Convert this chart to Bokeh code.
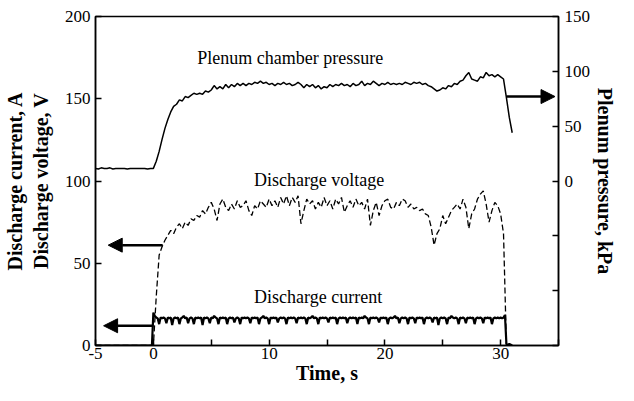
from bokeh.plotting import figure
from bokeh.models import (Range1d, LinearAxis, FixedTicker, Arrow, NormalHead,
                          ColumnDataSource, Title)
from bokeh.core.properties import value
from bokeh.embed import file_html
from bokeh.resources import INLINE

# ---------------- data ----------------
# plenum chamber pressure, kPa (right axis), sampled every 0.25 s from -5.0 s
P_T0, P_DT = -5.0, 0.25
pressure_kpa = [
    11.5, 11.0, 12.0, 11.5, 11.5, 12.0, 11.0, 11.5, 11.5, 11.5,
    11.5, 11.0, 11.5, 11.5, 11.5, 11.5, 11.5, 11.5, 11.0, 11.5,
    11.5, 18, 27, 38, 48, 56, 63, 68, 70, 74,
    73, 77, 76, 78, 80, 79, 80, 79, 82, 81,
    83, 87, 84, 86, 84, 88, 85, 88, 86, 89,
    87, 89, 87, 89, 88, 90, 89, 91, 89, 90,
    88, 89, 87, 89, 88, 90, 88, 89, 87, 88,
    90, 88, 85, 88, 86, 88, 85, 87, 84, 86,
    85, 88, 86, 88, 87, 89, 87, 88, 86, 89,
    87, 88, 91, 87, 89, 88, 91, 89, 87, 89,
    88, 90, 88, 89, 88, 89, 88, 90, 89, 88,
    90, 89, 90, 88, 89, 87, 86, 84, 82, 83,
    85, 84, 87, 86, 89, 88, 91, 92, 96, 99,
    93, 92, 91, 95, 94, 99, 96, 97, 95, 97,
    95, 93, 76, 58, 44,
]

# discharge voltage, V (left axis), sampled every 0.25 s from -5.0 s
V_T0, V_DT = -5.0, 0.25
voltage_v = [
    0, 0, 0, 0, 0, 0, 0, 0, 0, 0,
    0, 0, 0, 0, 0, 0, 0, 0, 0, 0,
    0, 30, 55, 60, 64, 67, 70, 68, 72, 74,
    71, 75, 73, 77, 76, 79, 78, 82, 80, 84,
    87, 83, 76, 86, 89, 84, 82, 86, 83, 88,
    84, 85, 88, 82, 79, 85, 83, 88, 86, 84,
    89, 85, 88, 84, 90, 86, 91, 85, 90, 87,
    91, 74, 82, 89, 86, 88, 83, 87, 84, 90,
    85, 88, 83, 89, 86, 90, 81, 85, 88, 84,
    89, 85, 87, 83, 89, 73, 82, 87, 79, 85,
    88, 89, 84, 83, 87, 85, 89, 88, 84, 86,
    83, 84, 82, 83, 80, 79, 72, 61, 68, 71,
    79, 74, 78, 82, 84, 86, 83, 89, 84, 71,
    80, 83, 89, 92, 94, 86, 75, 82, 87, 85,
    80, 68, 0,
]

# discharge current, A (left axis), sampled every 0.125 s from -5.0 s
C_T0, C_DT = -5.0, 0.125
current_a = [
    # -5.0 .. -0.125 s
    0, 0, 0, 0, 0, 0, 0, 0, 0, 0, 0, 0, 0, 0, 0, 0, 0, 0, 0, 0,
    0, 0, 0, 0, 0, 0, 0, 0, 0, 0, 0, 0, 0, 0, 0, 0, 0, 0, 0, 0,
    # 0 .. 29.875 s
    20, 18, 17, 16.5, 13, 17, 16.5, 17, 16.5, 13.5, 17, 16.5, 17, 12.5, 16.5, 17,
    16.5, 17, 13, 16.5, 17, 18, 16.5, 17, 13.5, 16.5, 17, 16.5, 13, 17, 16.5, 17,
    16.5, 17, 12.5, 17, 16.5, 17, 16.5, 13.5, 17, 16.5, 18, 17, 16.5, 13, 17, 16.5,
    17, 16.5, 17, 13, 16.5, 17, 16.5, 17, 14, 16.5, 17, 16.5, 13, 17, 16.5, 17,
    16.5, 17, 16.5, 13.5, 17, 16.5, 17, 16.5, 17, 13, 16.5, 17, 18, 16.5, 17, 16.5,
    13, 17, 16.5, 17, 16.5, 17, 14, 16.5, 17, 16.5, 17, 16.5, 13, 17, 16.5, 17,
    16.5, 17, 16.5, 13.5, 17, 16.5, 17, 16.5, 17, 16.5, 13, 17, 16.5, 17, 18, 16.5,
    17, 16.5, 13, 17, 16.5, 17, 16.5, 17, 16.5, 14, 17, 16.5, 17, 16.5, 17, 13,
    16.5, 17, 16.5, 17, 16.5, 17, 13.5, 16.5, 17, 16.5, 17, 16.5, 17, 13, 17, 16.5,
    17, 16.5, 18, 17, 16.5, 13, 17, 16.5, 17, 16.5, 17, 16.5, 14, 17, 16.5, 17,
    16.5, 17, 13, 16.5, 17, 16.5, 17, 18, 16.5, 17, 13.5, 16.5, 17, 16.5, 17, 16.5,
    13, 17, 16.5, 17, 16.5, 13.5, 17, 16.5, 17, 16.5, 17, 13, 16.5, 17, 16.5, 17,
    16.5, 14, 17, 16.5, 17, 12.5, 16.5, 17, 16.5, 17, 16.5, 13, 17, 16.5, 18, 17,
    16.5, 17, 16.5, 13, 17, 16.5, 17, 16.5, 13.5, 17, 16.5, 17, 16.5, 17, 13, 16.5,
    17, 16.5, 17, 16.5, 13.5, 17, 16.5, 17, 16.5, 17, 13, 16.5, 17, 16.5, 17, 16.5,
    # 30.0 .. 31.0 s
    17, 16.5, 17, 18.5, 1, 0.5, 1, 0.5, 0,
]

# series annotations (x in s, y in left-axis units)
label_text = ["Plenum chamber pressure", "Discharge voltage", "Discharge current"]
label_x = [3.8, 8.7, 8.7]
label_y = [175, 100.5, 29.5]

# arrows pointing to the axis of each series: (x_start, x_end, y)
volt_arrow = (0.8, -3.9, 61)       # left axis
curr_arrow = (0.0, -4.3, 12)       # left axis
pres_arrow = (30.5, 34.7, 77)      # right axis, kPa

x_ticks = [-5, 0, 5, 10, 15, 20, 25, 30, 35]
x_tick_labels = {-5: "-5", 0: "0", 5: "", 10: "10", 15: "", 20: "20", 25: "",
                 30: "30", 35: ""}
left_ticks = [0, 50, 100, 150, 200]
right_ticks = [-150, -100, -50, 0, 50, 100, 150]
right_tick_labels = {-150: "", -100: "", -50: "", 0: "0", 50: "50", 100: "100",
                     150: "150"}

x_title = "Time, s"
left_title = "Discharge current, A\nDischarge voltage, V"
right_title = "Plenum pressure, kPa"

# ---------------- figure ----------------
def times(t0, dt, n):
    return [t0 + dt * i for i in range(n)]

FONT = "Liberation Serif"

p = figure(width=626, height=391, output_backend="svg", toolbar_location=None,
           x_range=Range1d(-5, 35), y_range=Range1d(0, 200),
           min_border_left=89, min_border_right=68, min_border_top=16,
           min_border_bottom=46)
p.background_fill_color = "white"
p.border_fill_color = "white"
p.xgrid.visible = False
p.ygrid.visible = False
p.outline_line_color = "black"
p.outline_line_width = 1.5

p.extra_y_ranges = {"pressure": Range1d(-150, 150)}

# lines
p.line(times(P_T0, P_DT, len(pressure_kpa)), pressure_kpa, y_range_name="pressure",
       line_color="black", line_width=1.5)
p.line(times(V_T0, V_DT, len(voltage_v)), voltage_v, line_color="black",
       line_width=1.3, line_dash="6 3")
p.line(times(C_T0, C_DT, len(current_a)), current_a, line_color="black",
       line_width=2.2)

# text labels
src = ColumnDataSource(dict(x=label_x, y=label_y, t=label_text))
p.text(x="x", y="y", text="t", source=src, text_font=value(FONT),
       text_font_size="18px", text_color="black", text_baseline="alphabetic",
       text_align="left")

# arrows
def add_arrow(spec, rng=None):
    xs, xe, y = spec
    kw = dict(end=NormalHead(size=14, fill_color="black", line_color="black"),
              x_start=xs, y_start=y, x_end=xe, y_end=y, line_width=2.5,
              line_color="black")
    if rng:
        kw["y_range_name"] = rng
    p.add_layout(Arrow(**kw))

add_arrow(volt_arrow)
add_arrow(curr_arrow)
add_arrow(pres_arrow, "pressure")

# axes styling
def style_axis(ax):
    ax.axis_line_color = "black"
    ax.axis_line_width = 1.5
    ax.major_tick_line_color = "black"
    ax.major_tick_line_width = 1.5
    ax.major_tick_in = 6
    ax.major_tick_out = 0
    ax.minor_tick_line_color = None
    ax.major_label_text_font = FONT
    ax.major_label_text_font_size = "17px"
    ax.major_label_text_color = "black"
    ax.axis_label_text_font = FONT
    ax.axis_label_text_font_size = "20px"
    ax.axis_label_text_font_style = "bold"
    ax.axis_label_text_color = "black"

xa = p.xaxis[0]
style_axis(xa)
xa.ticker = FixedTicker(ticks=x_ticks)
xa.major_label_overrides = x_tick_labels
xa.axis_label = x_title
xa.major_label_standoff = 2
xa.axis_label_standoff = 0

ya = p.yaxis[0]
style_axis(ya)
ya.ticker = FixedTicker(ticks=left_ticks)
ya.axis_label = left_title
ya.major_label_standoff = 5
ya.axis_label_standoff = 10

ra = LinearAxis(y_range_name="pressure")
style_axis(ra)
ra.ticker = FixedTicker(ticks=right_ticks)
ra.major_label_overrides = right_tick_labels
ra.major_label_standoff = 6
p.add_layout(ra, "right")

# right-hand title, outside the right axis
p.add_layout(Title(text=right_title, align="center", text_font=FONT,
                   text_font_size="20px", text_font_style="bold",
                   text_color="black", standoff=0), "right")

open("out.html", "w").write(file_html(p, INLINE))
